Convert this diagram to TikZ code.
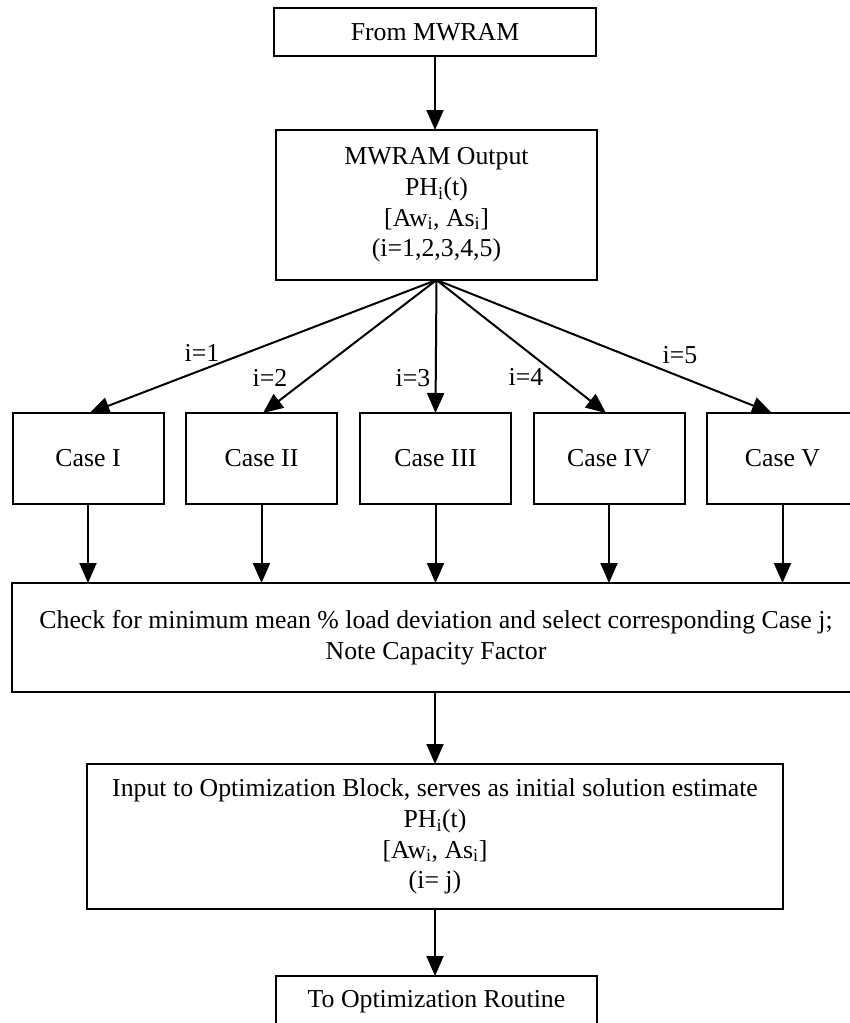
\documentclass[tikz,border=0pt]{standalone}
\usepackage{fontspec}
\setmainfont{Liberation Serif}
\usetikzlibrary{arrows.meta,calc}
\begin{document}
\begin{tikzpicture}[x=1pt,y=-1pt,
  every node/.style={font=\fontsize{25.8}{30.8}\selectfont},
  blk/.style={draw,line width=2pt,inner sep=0pt,outer sep=0pt,align=center},
  arr/.style={line width=2pt,-{Triangle[length=20pt,width=17pt]}},
  lbl/.style={inner sep=0pt}]
\useasboundingbox (0,0) rectangle (850,1023);
\node[blk,minimum width=322,minimum height=48] (from) at (435,32) {From MWRAM};
\node[blk,minimum width=321,minimum height=150] (out) at (436.5,205)
  {MWRAM Output\\PH\textsubscript{i}(t)\\{}[Aw\textsubscript{i}, As\textsubscript{i}]\\(i=1,2,3,4,5)};
\node[blk,minimum width=151,minimum height=91] (c1) at (88,458.5) {Case I};
\node[blk,minimum width=151,minimum height=91] (c2) at (261.5,458.5) {Case II};
\node[blk,minimum width=151,minimum height=91] (c3) at (435.5,458.5) {Case III};
\node[blk,minimum width=151,minimum height=91] (c4) at (609,458.5) {Case IV};
\node[blk,minimum width=151,minimum height=91] (c5) at (782.5,458.5) {Case V};
\node[blk,minimum width=848,minimum height=109] (chk) at (436,637.5)
  {Check for minimum mean \% load deviation and select corresponding Case j;\\Note Capacity Factor};
\node[blk,minimum width=696,minimum height=145] (opt) at (435,836.5)
  {Input to Optimization Block, serves as initial solution estimate\\PH\textsubscript{i}(t)\\{}[Aw\textsubscript{i}, As\textsubscript{i}]\\(i= j)};
\node[blk,minimum width=321,minimum height=52] (rt) at (436.5,1002) {To Optimization Routine};

\draw[arr] (from.south) -- (from.south |- out.north);
\draw[arr] (out.south) -- ($(c1.north west)!0.51!(c1.north east)$);
\draw[arr] (out.south) -- ($(c2.north west)!0.51!(c2.north east)$);
\draw[arr] (out.south) -- (c3.north);
\draw[arr] (out.south) -- ($(c4.north west)!0.48!(c4.north east)$);
\draw[arr] (out.south) -- ($(c5.north west)!0.43!(c5.north east)$);
\foreach \c in {c1,c2,c3,c4,c5} \draw[arr] (\c.south) -- (\c.south |- chk.north);
\draw[arr] (chk.south -| opt.north) -- (opt.north);
\draw[arr] (opt.south) -- (opt.south |- rt.north);

\node[lbl] (l1) at (202,353) {i=1};
\node[lbl] (l2) at (270,378) {i=2};
\node[lbl] (l3) at (413,378) {i=3};
\node[lbl] (l4) at (526,377) {i=4};
\node[lbl] (l5) at (680,355) {i=5};
\end{tikzpicture}
\end{document}
